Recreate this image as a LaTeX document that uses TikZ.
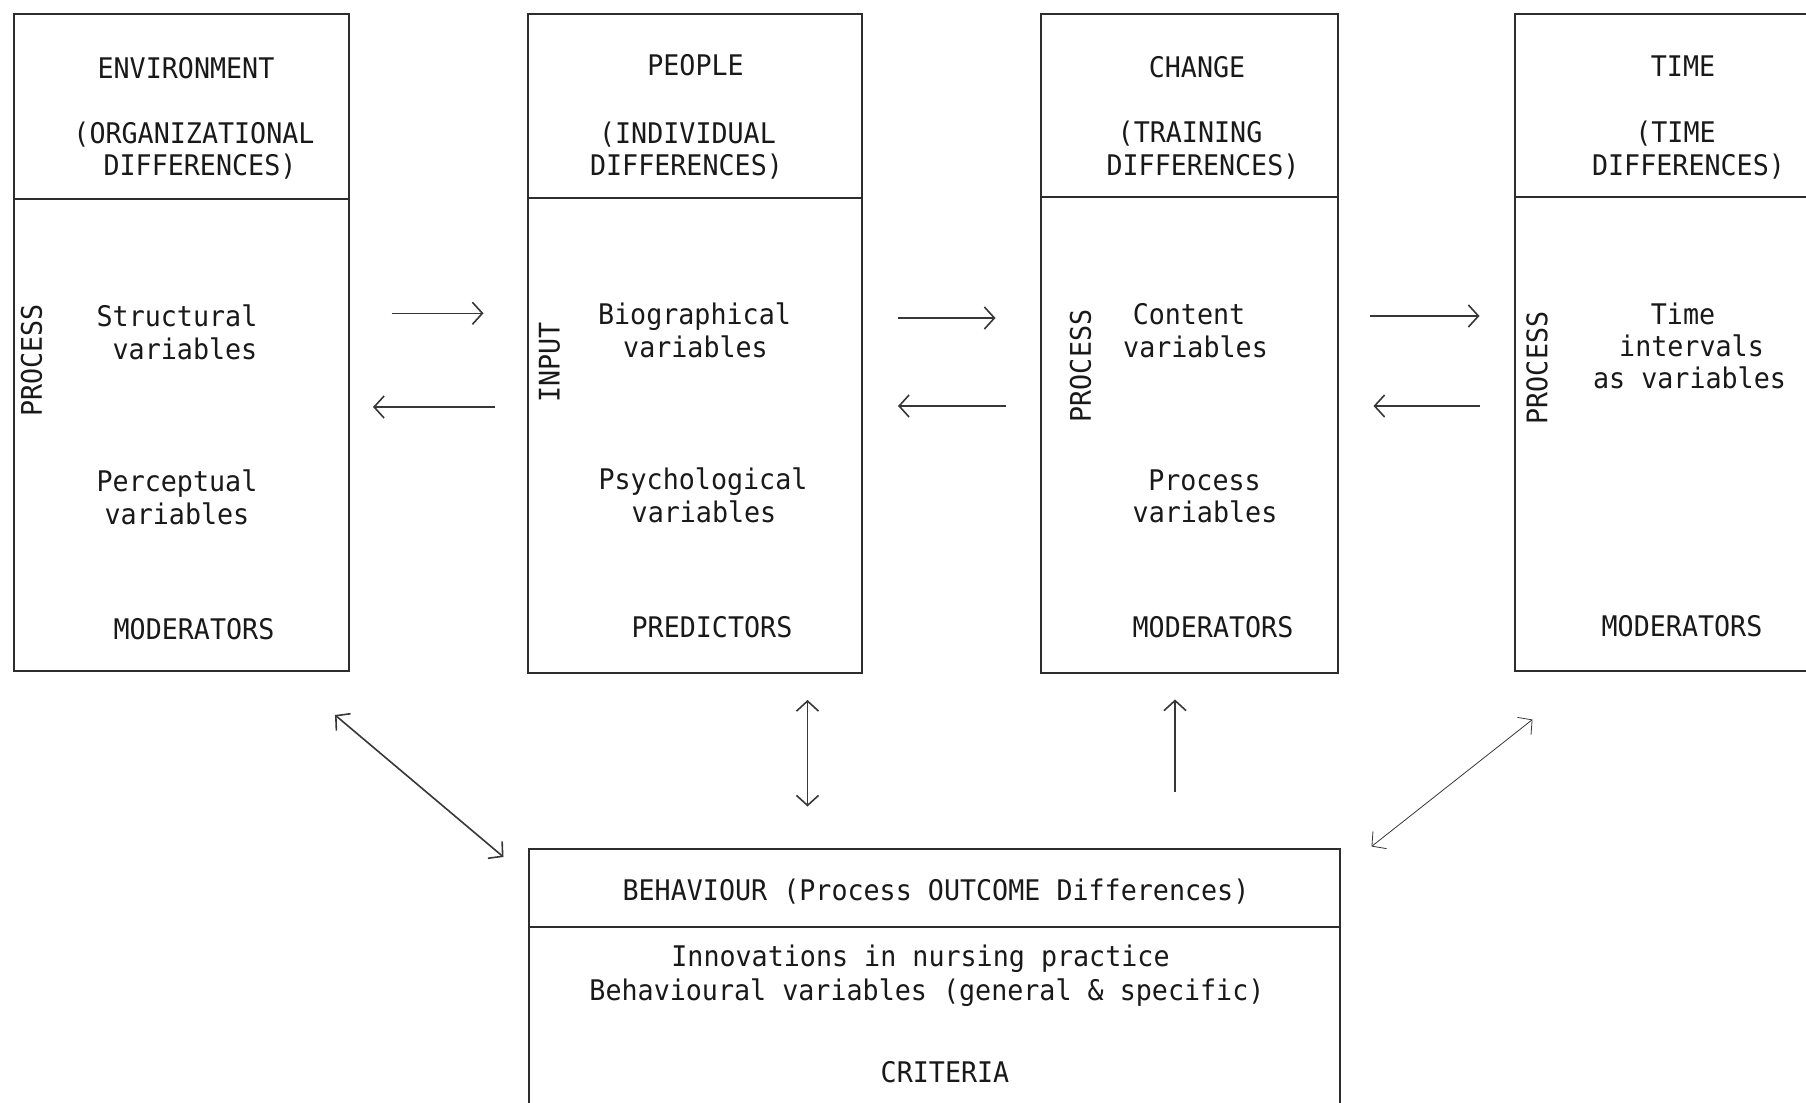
\documentclass[tikz,border=0pt]{standalone}
\usepackage{fontspec}
\newfontfamily\typewr{DejaVu Sans Mono}[FakeStretch=0.94]
\usetikzlibrary{arrows.meta}

\begin{document}
\begin{tikzpicture}[x=0.5pt,y=0.5pt,yscale=-1,xscale=1,
  box/.style={draw={rgb, 255:red, 45; green, 45; blue, 45 }, line width=1pt},
  arr/.style={draw={rgb, 255:red, 55; green, 55; blue, 55 }, line width=0.8pt, -{Straight Barb[length=5pt,width=11pt]}},
  darr/.style={arr, {Straight Barb[length=5pt,width=11pt]}-{Straight Barb[length=5pt,width=11pt]}},
  lbl/.style={inner sep=0pt, anchor=base, text={rgb, 255:red, 25; green, 25; blue, 25 }, font=\typewr\fontsize{14.2}{16.7}\selectfont},
  vlbl/.style={lbl, anchor=center, rotate=90}]
\useasboundingbox (0,0) rectangle (1806,1103);
\clip (0,0) rectangle (1806,1103);

%Shape: Rectangle [environment]
\draw [box] (14,14) rectangle (349,671);
\draw [box] (14,199) -- (349,199);
%Shape: Rectangle [people]
\draw [box] (528,14) rectangle (862,673);
\draw [box] (528,198) -- (862,198);
%Shape: Rectangle [change]
\draw [box] (1041,14) rectangle (1338,673);
\draw [box] (1041,197) -- (1338,197);
%Shape: Rectangle [time] (runs off the right edge)
\draw [box] (1515,14) rectangle (1840,671);
\draw [box] (1515,197) -- (1840,197);
%Shape: Rectangle [behaviour] (runs off the bottom edge)
\draw [box] (529,849) rectangle (1340,1140);
\draw [box] (529,927) -- (1340,927);

% Text Node
\node [lbl] (envT) at (186,78) {ENVIRONMENT};
% Text Node
\node [lbl] (envS1) at (194,143) {(ORGANIZATIONAL};
% Text Node
\node [lbl] (envS2) at (200,175.5) {DIFFERENCES)};
% Text Node
\node [lbl] (envA1) at (177,326) {Structural};
% Text Node
\node [lbl] (envA2) at (185,359.5) {variables};
% Text Node
\node [lbl] (envB1) at (177,491) {Perceptual};
% Text Node
\node [lbl] (envB2) at (177,524.5) {variables};
% Text Node
\node [lbl] (envM) at (194,639) {MODERATORS};
% Text Node
\node [vlbl] (envP) at (31.5,360.5) {PROCESS};

% Text Node
\node [lbl] (pplT) at (695.5,75.5) {PEOPLE};
% Text Node
\node [lbl] (pplS1) at (687.5,143) {(INDIVIDUAL};
% Text Node
\node [lbl] (pplS2) at (686.5,175.5) {DIFFERENCES)};
% Text Node
\node [lbl] (pplA1) at (694.5,324) {Biographical};
% Text Node
\node [lbl] (pplA2) at (695.5,357) {variables};
% Text Node
\node [lbl] (pplB1) at (703,489) {Psychological};
% Text Node
\node [lbl] (pplB2) at (704,522.5) {variables};
% Text Node
\node [lbl] (pplM) at (712,637.5) {PREDICTORS};
% Text Node
\node [vlbl] (pplP) at (549.5,362.8) {INPUT};

% Text Node
\node [lbl] (chgT) at (1197,77) {CHANGE};
% Text Node
\node [lbl] (chgS1) at (1190,142) {(TRAINING};
% Text Node
\node [lbl] (chgS2) at (1203,175.5) {DIFFERENCES)};
% Text Node
\node [lbl] (chgA1) at (1189,324) {Content};
% Text Node
\node [lbl] (chgA2) at (1195.5,357) {variables};
% Text Node
\node [lbl] (chgB1) at (1204.5,490) {Process};
% Text Node
\node [lbl] (chgB2) at (1205,522.5) {variables};
% Text Node
\node [lbl] (chgM) at (1213,637.5) {MODERATORS};
% Text Node
\node [vlbl] (chgP) at (1080.5,366) {PROCESS};

% Text Node
\node [lbl] (timT) at (1683,76) {TIME};
% Text Node
\node [lbl] (timS1) at (1675.5,142) {(TIME};
% Text Node
\node [lbl] (timS2) at (1688.5,175.5) {DIFFERENCES)};
% Text Node
\node [lbl] (timA1) at (1683,324) {Time};
% Text Node
\node [lbl] (timA2) at (1691.5,356) {intervals};
% Text Node
\node [lbl] (timA3) at (1689.5,388.5) {as variables};
% Text Node
\node [lbl] (timM) at (1682,636.5) {MODERATORS};
% Text Node
\node [vlbl] (timP) at (1537,368) {PROCESS};

% Text Node
\node [lbl] (behT) at (936,900) {BEHAVIOUR (Process OUTCOME Differences)};
% Text Node
\node [lbl] (behA1) at (920.5,966.5) {Innovations in nursing practice};
% Text Node
\node [lbl] (behA2) at (927,1000) {Behavioural variables (general \& specific)};
% Text Node
\node [lbl] (behC) at (945,1082) {CRITERIA};

%Straight Lines [environment <-> people]
\coordinate (ep1) at (391.5,313.3);
\coordinate (ep2) at (483.5,313.3);
\coordinate (pe1) at (495,407);
\coordinate (pe2) at (373,407);
\draw [arr] (ep1) -- (ep2);
\draw [arr] (pe1) -- (pe2);
%Straight Lines [people <-> change]
\coordinate (pc1) at (898,318);
\coordinate (pc2) at (995.5,318);
\coordinate (cp1) at (1005.5,406);
\coordinate (cp2) at (898,406);
\draw [arr] (pc1) -- (pc2);
\draw [arr] (cp1) -- (cp2);
%Straight Lines [change <-> time]
\coordinate (ct1) at (1369.5,316);
\coordinate (ct2) at (1479.5,316);
\coordinate (tc1) at (1479.5,406);
\coordinate (tc2) at (1373.5,406);
\draw [arr] (ct1) -- (ct2);
\draw [arr] (tc1) -- (tc2);

%Straight Lines [boxes <-> behaviour]
\coordinate (eb1) at (335,715);
\coordinate (eb2) at (503.5,857);
\draw [darr] (eb1) -- (eb2);
\coordinate (pb1) at (807.5,700);
\coordinate (pb2) at (807.5,806.5);
\draw [darr] (pb1) -- (pb2);
\coordinate (cb1) at (1175,792);
\coordinate (cb2) at (1175,699.5);
\draw [arr] (cb1) -- (cb2);
\coordinate (tb1) at (1532.5,719.5);
\coordinate (tb2) at (1371.5,846.5);
\draw [darr, line width=0.4pt] (tb1) -- (tb2);

\end{tikzpicture}
\end{document}
